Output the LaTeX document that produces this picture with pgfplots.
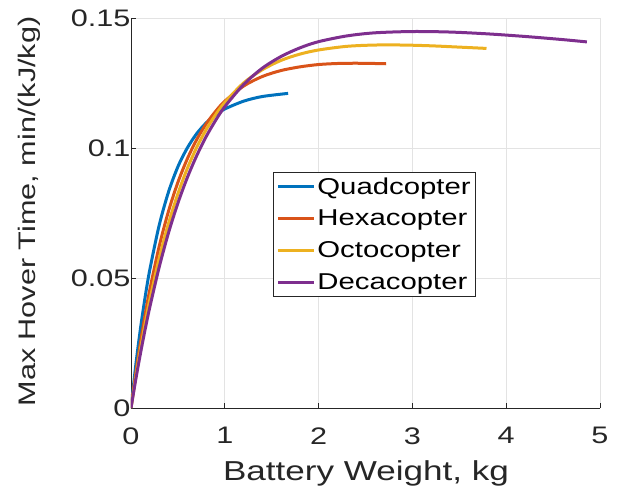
\documentclass[border=0pt]{standalone}
\usepackage{pgfplots}
\pgfplotsset{compat=1.18}
\usepackage{fontspec}
\setmainfont[FakeStretch=1.28]{Liberation Sans}
\definecolor{mblue}{rgb}{0,0.447,0.741}
\definecolor{morange}{rgb}{0.850,0.325,0.098}
\definecolor{myellow}{rgb}{0.929,0.694,0.125}
\definecolor{mpurple}{rgb}{0.494,0.184,0.556}
\definecolor{axgray}{rgb}{0.15,0.15,0.15}
\begin{document}
\begin{tikzpicture}
\useasboundingbox (-131bp,-83bp) rectangle (487bp,408bp);
\begin{axis}[
  at={(0,0)}, anchor=south west,
  scale only axis, width=469bp, height=390bp,
  xmin=0, xmax=5, ymin=0, ymax=0.15,
  xtick={0,1,2,3,4,5}, ytick={0,0.05,0.1,0.15},
  yticklabels={0,0.05,0.1,0.15},
  axis lines*=left,
  axis line style={axgray, line width=0.8bp},
  tick style={axgray, line width=0.8bp},
  tick align=inside, major tick length=5bp,
  grid=major, grid style={gray!22, line width=0.6bp},
  /pgf/number format/assume math mode=true,
  ticklabel style={font=\fontsize{24}{28}\selectfont, text=axgray},
  xticklabel style={yshift=-16bp},
  yticklabel style={xshift=3bp},
  xlabel={Battery Weight, kg},
  ylabel={Max Hover Time, min/(kJ/kg)},
  xlabel style={at={(axis description cs:0.501,-0.167)}, anchor=center,
    font=\fontsize{27.5}{32}\selectfont, text=axgray},
  ylabel style={at={(axis description cs:-0.217,0.504)}, anchor=center,
    font=\fontsize{24}{28}\selectfont, text=axgray},
  legend style={at={(0.303,0.605)}, anchor=north west,
    font=\fontsize{23}{27}\selectfont, draw=axgray, line width=0.8bp,
    inner sep=3bp, row sep=10.5bp, cells={anchor=west}},
  legend image code/.code={\draw[line width=3.5bp] (0cm,0cm) -- (1.25cm,0cm);},
  every axis plot/.append style={line width=3bp, smooth},
]
\addplot[mblue] coordinates {
(0,0) (0.05,0.0162) (0.1,0.0303) (0.15,0.0425) (0.2,0.0531) (0.3,0.0702) (0.4,0.0831)
(0.5,0.0928) (0.6,0.1000) (0.7,0.1055) (0.8,0.1096) (0.9,0.1127) (1.0,0.1150)
(1.2,0.1180) (1.4,0.1198) (1.675,0.1210)};
\addlegendentry{Quadcopter}
\addplot[morange] coordinates {
(0,0) (0.05,0.0131) (0.1,0.0250) (0.15,0.0357) (0.2,0.0454) (0.3,0.0621) (0.4,0.0757)
(0.5,0.0868) (0.6,0.0958) (0.7,0.1032) (0.8,0.1092) (0.9,0.1140) (1.0,0.1180)
(1.2,0.1238) (1.4,0.1275) (1.6,0.1298) (1.8,0.1312) (2.0,0.1321) (2.2,0.1325)
(2.4,0.1326) (2.6,0.1325) (2.72,0.1324)};
\addlegendentry{Hexacopter}
\addplot[myellow] coordinates {
(0,0) (0.05,0.0117) (0.1,0.0225) (0.15,0.0324) (0.2,0.0415) (0.3,0.0575) (0.4,0.0710)
(0.5,0.0824) (0.6,0.0921) (0.7,0.1002) (0.8,0.1070) (0.9,0.1127) (1.0,0.1175)
(1.2,0.1250) (1.4,0.1301) (1.6,0.1337) (1.8,0.1361) (2.0,0.1377) (2.3,0.1391)
(2.6,0.1396) (2.9,0.1396) (3.2,0.1393) (3.5,0.1388) (3.79,0.1383)};
\addlegendentry{Octocopter}
\addplot[mpurple] coordinates {
(0,0) (0.05,0.0108) (0.1,0.0208) (0.15,0.0301) (0.2,0.0387) (0.3,0.0541) (0.4,0.0674)
(0.5,0.0788) (0.6,0.0886) (0.7,0.0970) (0.8,0.1043) (0.9,0.1105) (1.0,0.1159)
(1.2,0.1244) (1.4,0.1307) (1.6,0.1352) (1.8,0.1385) (2.0,0.1409) (2.3,0.1431)
(2.6,0.1443) (3.0,0.1448) (3.4,0.1446) (3.8,0.1439) (4.2,0.1429) (4.6,0.1417) (4.86,0.1408)};
\addlegendentry{Decacopter}
\end{axis}
\end{tikzpicture}
\end{document}
